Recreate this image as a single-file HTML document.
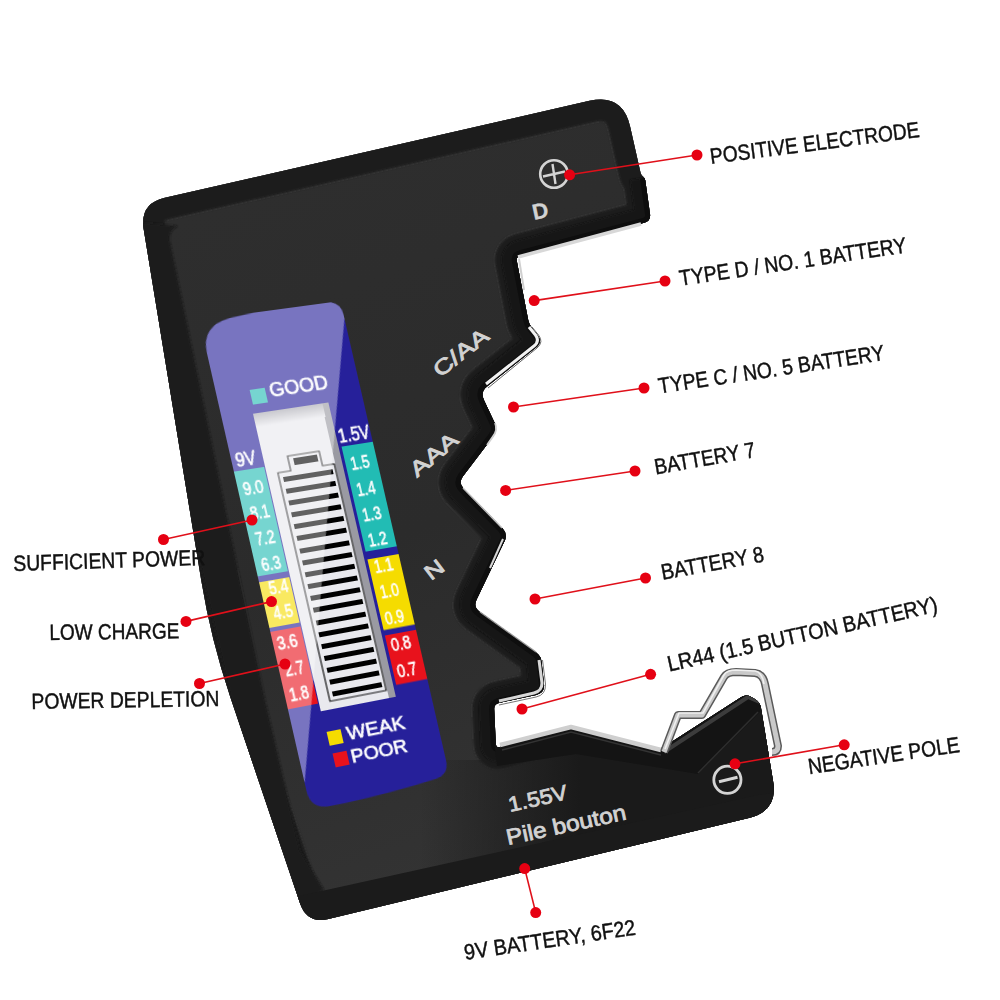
<!DOCTYPE html>
<html><head><meta charset="utf-8">
<style>
html,body{margin:0;padding:0;background:#fff;}
body{width:1000px;height:1000px;position:relative;overflow:hidden;font-family:"Liberation Sans",sans-serif;}
svg{position:absolute;left:0;top:0;}
#lcd{position:absolute;left:0;top:0;width:142px;height:496px;transform-origin:0 0;
transform:matrix3d(1.041746,-0.091366,0,0.00014333,0.220031,0.976411,0,-0.00001637,0,0,1,0,199.4000,320.1000,0,1.000000);}
</style></head>
<body>
<!-- DEVICE -->
<svg id="dev" width="1000" height="1000" viewBox="0 0 1000 1000">
  <defs>
    <path id="outer" d="M143.7,229.3 Q139.5,203.6 164.8,197.8 L589.5,100.8 Q622.6,93.2 630.1,126.4 L640.5,172.6 Q641.0,175.0 643.0,176.5 L643.0,176.5 Q645.0,178.0 645.3,180.5 L650.0,214.1 Q651.0,221.0 644.2,222.8 L520.8,255.2 Q516.0,256.5 516.9,261.4 L528.2,320.1 Q529.0,324.0 531.5,327.2 L537.5,334.9 Q543.0,342.0 536.0,347.6 L487.0,386.4 Q480.0,392.0 483.9,400.1 L494.6,422.8 Q498.0,430.0 493.2,436.4 L462.8,476.6 Q458.0,483.0 463.6,488.7 L502.4,528.3 Q508.0,534.0 504.5,541.2 L476.5,599.8 Q473.0,607.0 479.5,611.7 L536.1,652.5 Q541.0,656.0 541.6,662.0 L544.0,684.1 Q545.0,693.0 536.2,694.9 L498.9,702.9 Q494.0,704.0 494.2,709.0 L495.8,744.0 Q496.0,748.0 499.9,746.9 L565.2,728.6 Q571.0,727.0 576.8,728.5 L653.2,748.5 Q659.0,750.0 664.0,746.8 L741.0,697.2 Q746.0,694.0 751.2,697.0 L754.8,699.0 Q760.0,702.0 761.0,707.9 L773.1,781.4 Q778.0,811.0 748.8,818.0 L328.4,918.9 Q307.0,924.0 300.0,903.2 L230.2,696.8 Q211.0,640.0 201.3,580.8 Z"/>
    <filter id="soft" x="-10%" y="-10%" width="120%" height="120%"><feGaussianBlur stdDeviation="1.2"/></filter>
    <clipPath id="oc"><use href="#outer"/></clipPath>
    <linearGradient id="panel" x1="0" y1="0" x2="0.3" y2="1">
      <stop offset="0" stop-color="#2f2f2f"/>
      <stop offset="0.6" stop-color="#2b2b2b"/>
      <stop offset="1" stop-color="#333"/>
    </linearGradient>
    <linearGradient id="lowg" x1="420" y1="0" x2="580" y2="0" gradientUnits="userSpaceOnUse">
      <stop offset="0" stop-color="#1a1a1a" stop-opacity="0"/>
      <stop offset="1" stop-color="#1a1a1a" stop-opacity="1"/>
    </linearGradient>
    <linearGradient id="blk" x1="0" y1="0" x2="1" y2="1">
      <stop offset="0" stop-color="#1a1a1a"/>
      <stop offset="1" stop-color="#0e0e0e"/>
    </linearGradient>
  </defs>
  <use href="#outer" fill="url(#panel)"/>
  <g clip-path="url(#oc)">
    <use href="#outer" fill="none" stroke="#383838" stroke-width="47" stroke-linejoin="round"/>
    <use href="#outer" fill="none" stroke="#1f1f1f" stroke-width="44" stroke-linejoin="round" filter="url(#soft)"/>
    <path d="M120,220 L178,226 Q168,230 170,242 L240,580 L265,700 L300,850 L324,890 L280,915 L140,300 Z" fill="#1c1c1c" filter="url(#soft)"/>
    <path d="M238,570 L264,690" stroke="#2a2a2a" stroke-width="1.2" fill="none"/>
    <path d="M645.0,178.0 L650.0,214.1 Q651.0,221.0 644.2,222.8 L520.8,255.2 Q516.0,256.5 516.9,261.4 L528.2,320.1 Q529.0,324.0 531.5,327.2 L537.5,334.9 Q543.0,342.0 536.0,347.6 L487.0,386.4 Q480.0,392.0 483.9,400.1 L494.6,422.8 Q498.0,430.0 493.2,436.4 L462.8,476.6 Q458.0,483.0 463.6,488.7 L502.4,528.3 Q508.0,534.0 504.5,541.2 L476.5,599.8 Q473.0,607.0 479.5,611.7 L536.1,652.5 Q541.0,656.0 541.6,662.0 L544.0,684.1 Q545.0,693.0 536.2,694.9 L498.9,702.9 Q494.0,704.0 494.2,709.0 L495.8,744.0 Q496.0,748.0 499.9,746.9 L565.2,728.6 Q571.0,727.0 576.8,728.5 L653.2,748.5 Q659.0,750.0 664.0,746.8 L741.0,697.2 Q746.0,694.0 751.2,697.0 L754.8,699.0 Q760.0,702.0 761.0,707.9 L778.0,811.0 " fill="none" stroke="#151515" stroke-width="30" stroke-linejoin="round" filter="url(#soft)"/>
    <path d="M645.0,178.0 L650.0,214.1 Q651.0,221.0 644.2,222.8 L520.8,255.2 Q516.0,256.5 516.9,261.4 L528.2,320.1 Q529.0,324.0 531.5,327.2 L537.5,334.9 Q543.0,342.0 536.0,347.6 L487.0,386.4 Q480.0,392.0 483.9,400.1 L494.6,422.8 Q498.0,430.0 493.2,436.4 L462.8,476.6 Q458.0,483.0 463.6,488.7 L502.4,528.3 Q508.0,534.0 504.5,541.2 L476.5,599.8 Q473.0,607.0 479.5,611.7 L536.1,652.5 Q541.0,656.0 541.6,662.0 L544.0,684.1 Q545.0,693.0 536.2,694.9 L498.9,702.9 Q494.0,704.0 494.2,709.0 L495.8,744.0 Q496.0,748.0 499.9,746.9 L565.2,728.6 Q571.0,727.0 576.8,728.5 L653.2,748.5 Q659.0,750.0 664.0,746.8 L741.0,697.2 Q746.0,694.0 751.2,697.0 L754.8,699.0 Q760.0,702.0 761.0,707.9 L778.0,811.0 " fill="none" stroke="#0e0e0e" stroke-width="10" stroke-linejoin="round"/>
    <!-- darker lower region -->
    <path d="M420,760 L497,760 L576,752 L698,772 L760,705 L800,700 L800,860 L420,940 Z" fill="url(#lowg)"/>
    <!-- bevel under platform -->
    <path d="M494,740 L571,724 L659,747 L746,691 L762,700 L760,712 L698,774 L576,754 L497,766 Z" fill="#141414"/>
    <path d="M664,752 L748,697 L762,703" stroke="#3c3c3c" stroke-width="4" fill="none"/>
    <path d="M698,773 L758,712" stroke="#2e2e2e" stroke-width="1.5" fill="none"/>
    <!-- black right block -->
    
    <!-- bottom rim -->
    <path d="M290,898 L758,795 L800,790 L800,840 L300,940 Z" fill="#1b1b1b"/>
  </g>
  <!-- metal strip under upper tab -->
  <path d="M518,257 L641,224" stroke="#d8d8d8" stroke-width="3.5" fill="none"/>
  <path d="M519,259 L524,290" stroke="#d0d0d0" stroke-width="2" fill="none"/>
  <!-- notch highlights -->
  <path d="M529,327 L535.5,335 Q540,341 534,346 L486,384" stroke="#f2f2f2" stroke-width="3" fill="none" stroke-linejoin="round"/>
  <path d="M532,327 L538.5,335 Q544,342 537,348 L488,388" stroke="#666" stroke-width="1" fill="none" stroke-linejoin="round"/>
  <path d="M495,423 Q498,430 493,436.4 L487,445" stroke="#d0d0d0" stroke-width="1.8" fill="none"/>
  <path d="M463,488 L502,528" stroke="#bdbdbd" stroke-width="1.4" fill="none"/>
  <path d="M503,539 L490,568" stroke="#d8d8d8" stroke-width="2" fill="none"/>
  <path d="M480,612 L536,652" stroke="#9a9a9a" stroke-width="1.2" fill="none"/>
  <path d="M539,660 L542,683 Q542,691 534,693 L499,701" stroke="#d8d8d8" stroke-width="3" fill="none" stroke-linejoin="round"/>
  <path d="M542.5,660 L545.5,684 Q546,695 536,697 L499,705" stroke="#777" stroke-width="1" fill="none" stroke-linejoin="round"/>
  <!-- platform metal strip -->
  <path d="M500,745 L571,727 L661,750" stroke="#cfcfcf" stroke-width="4.5" fill="none" stroke-linejoin="round"/>
  <path d="M502,750 L571,732 L661,755" stroke="#333" stroke-width="1.5" fill="none"/>
  <!-- big wire spring -->
  <path d="M664,752 L678,715 L702,715 L724,677 Q727,672 736,672 L755,673 Q763,674 765,684 L778,746 Q778,752 772,752" stroke="#5a5a5a" stroke-width="8" fill="none" stroke-linejoin="round"/>
  <path d="M664,752 L678,715 L702,715 L724,677 Q727,672 736,672 L755,673 Q763,674 765,684 L778,746 Q778,752 772,752" stroke="#c9c9c9" stroke-width="5" fill="none" stroke-linejoin="round"/>
  <path d="M665,749 L679,713 L703,713 L724,675 Q727,670 736,670 L755,671 Q762,672 764,684" stroke="#f0f0f0" stroke-width="1.6" fill="none" stroke-linejoin="round"/>
  <!-- contact nub at tab -->

  <!-- device markings -->
  <g fill="none" stroke="#d4d4d4">
    <circle cx="554" cy="174" r="13.8" stroke-width="2.6"/>
    <path d="M543,176.5 L565,171.5 M552.5,164 L555.5,184" stroke-width="2.4"/>
    <circle cx="727.4" cy="779.8" r="13.6" stroke-width="2.8"/>
    <path d="M719,781.8 L737.5,777.3" stroke-width="3.2"/>
  </g>
  <g fill="#d2d2d2" stroke="#d2d2d2" font-family="Liberation Sans">
    <text transform="translate(534,220) rotate(-12)" font-size="22" font-weight="bold" stroke-width="0.3" textLength="16" lengthAdjust="spacingAndGlyphs">D</text>
    <text transform="translate(440,378) rotate(-38)" font-size="21" stroke-width="0.8" textLength="64" lengthAdjust="spacingAndGlyphs">C/AA</text>
    <text transform="translate(417,478) rotate(-40)" font-size="21" stroke-width="0.8" textLength="56" lengthAdjust="spacingAndGlyphs">AAA</text>
    <text transform="translate(431,581) rotate(-37)" font-size="21" stroke-width="0.8" textLength="19" lengthAdjust="spacingAndGlyphs">N</text>
    <text transform="translate(510,812) rotate(-12.5)" font-size="21" stroke-width="0.8" textLength="60" lengthAdjust="spacingAndGlyphs">1.55V</text>
    <text transform="translate(508,845) rotate(-12.2)" font-size="22" stroke-width="0.8" textLength="122" lengthAdjust="spacingAndGlyphs">Pile bouton</text>
  </g>
</svg>

<!-- LCD -->
<div id="lcd">
<svg width="142" height="496" viewBox="0 0 142 496" style="position:absolute;left:0;top:0">
  <defs>
    <linearGradient id="wtop" x1="0" y1="0" x2="0" y2="1"><stop offset="0" stop-color="#a8a8b0"/><stop offset="1" stop-color="#e9e9ee"/></linearGradient>
    <clipPath id="lcdclip">
      <path d="M0,34 Q0,6 30,2 Q80,-3 126,-1 Q142,0 142,14 L142,474 Q142,488 128,490 Q70,496 18,495 Q0,494 0,476 Z"/>
    </clipPath>
  </defs>
  <g clip-path="url(#lcdclip)">
    <rect x="0" y="-4" width="142" height="500" fill="#26209a"/>
    <!-- 1.5V right column -->
    <rect x="110" y="146" width="33" height="108" fill="#22bcb4"/>
    <rect x="110" y="262" width="33" height="72.5" fill="#f5dc00"/>
    <rect x="110" y="340" width="33" height="50.5" fill="#e8121c"/>
    <!-- left column -->
    <rect x="0" y="154" width="30" height="106" fill="#22bcb4"/>
    <rect x="0" y="266" width="30" height="46" fill="#f5dc00"/>
    <rect x="0" y="316" width="30" height="78" fill="#e8121c"/>
    <!-- window -->
    <rect x="31" y="100" width="76" height="302" fill="#e9e9ee"/>
    <rect x="100" y="100" width="7" height="302" fill="#9a9aa2"/>
    <rect x="31" y="100" width="70" height="14" fill="url(#wtop)"/>
    <!-- battery icon -->
    <path d="M55,162 L55,147 L87,147 L87,162 L99,162 L99,394 L42,394 L42,162 Z" fill="none" stroke="#111" stroke-width="1.2"/>
    <g fill="#000">
      <rect x="60" y="150" width="24" height="7"/>
      <rect x="46" y="167" width="50" height="5"/>
      <rect x="46" y="179" width="50" height="5"/>
      <rect x="46" y="191" width="50" height="5"/>
      <rect x="46" y="203" width="50" height="5"/>
      <rect x="46" y="215" width="50" height="5"/>
      <rect x="46" y="227" width="50" height="5"/>
      <rect x="46" y="240" width="50" height="5"/>
      <rect x="46" y="252" width="50" height="5"/>
      <rect x="46" y="264" width="50" height="5"/>
      <rect x="46" y="276" width="50" height="5"/>
      <rect x="46" y="288" width="50" height="5"/>
      <rect x="46" y="300" width="50" height="5"/>
      <rect x="46" y="313" width="50" height="5"/>
      <rect x="46" y="325" width="50" height="5"/>
      <rect x="46" y="337" width="50" height="5"/>
      <rect x="46" y="349" width="50" height="5"/>
      <rect x="46" y="361" width="50" height="5"/>
      <rect x="46" y="373" width="50" height="5"/>
      <rect x="46" y="385" width="50" height="5"/>
    </g>
    <!-- text -->
    <g fill="#fff" stroke="#fff" stroke-width="0.6" font-family="Liberation Sans" font-size="19.5">
      <text x="109" y="142" textLength="32" lengthAdjust="spacingAndGlyphs">1.5V</text>
      <text x="4" y="150" font-size="21" textLength="20" lengthAdjust="spacingAndGlyphs">9V</text>
      <g font-size="18.5">
      <text x="115" y="171" textLength="19" lengthAdjust="spacingAndGlyphs">1.5</text>
      <text x="115" y="198" textLength="19" lengthAdjust="spacingAndGlyphs">1.4</text>
      <text x="115" y="224.5" textLength="19" lengthAdjust="spacingAndGlyphs">1.3</text>
      <text x="115" y="250.5" textLength="19" lengthAdjust="spacingAndGlyphs">1.2</text>
      <text x="115" y="277.5" textLength="19" lengthAdjust="spacingAndGlyphs">1.1</text>
      <text x="115" y="303.5" textLength="19" lengthAdjust="spacingAndGlyphs">1.0</text>
      <text x="114" y="330.5" textLength="19" lengthAdjust="spacingAndGlyphs">0.9</text>
      <text x="114" y="357.5" textLength="20" lengthAdjust="spacingAndGlyphs">0.8</text>
      <text x="114" y="384.5" textLength="20" lengthAdjust="spacingAndGlyphs">0.7</text>
      <text x="5" y="179" textLength="20" lengthAdjust="spacingAndGlyphs">9.0</text>
      <text x="6.5" y="204" textLength="19" lengthAdjust="spacingAndGlyphs">8.1</text>
      <text x="6" y="230.5" textLength="19" lengthAdjust="spacingAndGlyphs">7.2</text>
      <text x="6" y="256" textLength="19" lengthAdjust="spacingAndGlyphs">6.3</text>
      <text x="8" y="280.5" textLength="19" lengthAdjust="spacingAndGlyphs">5.4</text>
      <text x="7" y="305.5" textLength="19" lengthAdjust="spacingAndGlyphs">4.5</text>
      <text x="4" y="335" textLength="20" lengthAdjust="spacingAndGlyphs">3.6</text>
      <text x="5.5" y="362" textLength="19" lengthAdjust="spacingAndGlyphs">2.7</text>
      <text x="4.5" y="387" textLength="19" lengthAdjust="spacingAndGlyphs">1.8</text>
      </g>
      <text x="52" y="86" font-size="19.5" textLength="59" lengthAdjust="spacingAndGlyphs">GOOD</text>
      <text x="51" y="435" font-size="19" textLength="59" lengthAdjust="spacingAndGlyphs">WEAK</text>
      <text x="50" y="458" font-size="19" textLength="57" lengthAdjust="spacingAndGlyphs">POOR</text>
    </g>
    <rect x="33" y="76" width="15" height="15" fill="#22bcb4"/>
    <rect x="32" y="423" width="14" height="14" fill="#f5dc00"/>
    <rect x="33" y="445" width="14" height="14" fill="#e8121c"/>
    <!-- glare overlay -->
    <path d="M-2,-6 L144,-6 L144,12 L-2,474 Z" fill="#fff" fill-opacity="0.38"/>
  </g>
</svg>
</div>

<!-- CALLOUTS & LABELS -->
<svg id="lab" width="1000" height="1000" viewBox="0 0 1000 1000">
  <g stroke="#e0101a" stroke-width="1.6">
    <line x1="569.6" y1="174.8" x2="697" y2="155"/>
    <line x1="534.2" y1="300.6" x2="665" y2="281"/>
    <line x1="513.5" y1="407" x2="644" y2="388"/>
    <line x1="505.6" y1="490.4" x2="635" y2="471"/>
    <line x1="535" y1="599" x2="645.5" y2="578"/>
    <line x1="522" y1="709" x2="650.6" y2="674.3"/>
    <line x1="735" y1="763.8" x2="844.2" y2="744.8"/>
    <line x1="524.7" y1="868.6" x2="535.7" y2="912.6"/>
    <line x1="163.5" y1="539.5" x2="252" y2="520"/>
    <line x1="186" y1="621.4" x2="271.5" y2="601.6"/>
    <line x1="199.5" y1="683.5" x2="285" y2="664"/>
  </g>
  <g fill="#e60012">
    <circle cx="569.6" cy="174.8" r="5.5"/><circle cx="697" cy="155" r="5.5"/>
    <circle cx="534.2" cy="300.6" r="5.5"/><circle cx="665" cy="281" r="5.5"/>
    <circle cx="513.5" cy="407" r="5.5"/><circle cx="644" cy="388" r="5.5"/>
    <circle cx="505.6" cy="490.4" r="5.5"/><circle cx="635" cy="471" r="5.5"/>
    <circle cx="535" cy="599" r="5.5"/><circle cx="645.5" cy="578" r="5.5"/>
    <circle cx="522" cy="709" r="5.5"/><circle cx="650.6" cy="674.3" r="5.5"/>
    <circle cx="735" cy="763.8" r="5.5"/><circle cx="844.2" cy="744.8" r="5.5"/>
    <circle cx="524.7" cy="868.6" r="5.5"/><circle cx="535.7" cy="912.6" r="5.5"/>
    <circle cx="163.5" cy="539.5" r="5.5"/><circle cx="252" cy="520" r="5.5"/>
    <circle cx="186" cy="621.4" r="5.5"/><circle cx="271.5" cy="601.6" r="5.5"/>
    <circle cx="199.5" cy="683.5" r="5.5"/><circle cx="285" cy="664" r="5.5"/>
  </g>
  <g fill="#111" stroke="#111" stroke-width="0.45" font-family="Liberation Sans" font-size="22">
    <text transform="translate(711,164) rotate(-7.4)" textLength="211" lengthAdjust="spacingAndGlyphs">POSITIVE ELECTRODE</text>
    <text transform="translate(680.6,285.8) rotate(-8.4)" textLength="229" lengthAdjust="spacingAndGlyphs">TYPE D / NO. 1 BATTERY</text>
    <text transform="translate(659.6,393.6) rotate(-8.5)" textLength="228" lengthAdjust="spacingAndGlyphs">TYPE C / NO. 5 BATTERY</text>
    <text transform="translate(655.7,474.4) rotate(-9.8)" textLength="102" lengthAdjust="spacingAndGlyphs">BATTERY 7</text>
    <text transform="translate(662.5,579.8) rotate(-10.2)" textLength="104" lengthAdjust="spacingAndGlyphs">BATTERY 8</text>
    <text transform="translate(669.3,671.6) rotate(-12.6)" textLength="276" lengthAdjust="spacingAndGlyphs">LR44 (1.5 BUTTON BATTERY)</text>
    <text transform="translate(809.2,774.2) rotate(-8.4)" textLength="153" lengthAdjust="spacingAndGlyphs">NEGATIVE POLE</text>
    <text transform="translate(465.3,959.9) rotate(-8.4)" textLength="173" lengthAdjust="spacingAndGlyphs">9V BATTERY, 6F22</text>
    <text transform="translate(13.5,571) rotate(-1.8)" textLength="192" lengthAdjust="spacingAndGlyphs">SUFFICIENT POWER</text>
    <text transform="translate(49.5,640) rotate(-0.7)" textLength="130" lengthAdjust="spacingAndGlyphs">LOW CHARGE</text>
    <text transform="translate(31.5,709) rotate(-0.9)" textLength="188" lengthAdjust="spacingAndGlyphs">POWER DEPLETION</text>
  </g>
</svg>
</body></html>
